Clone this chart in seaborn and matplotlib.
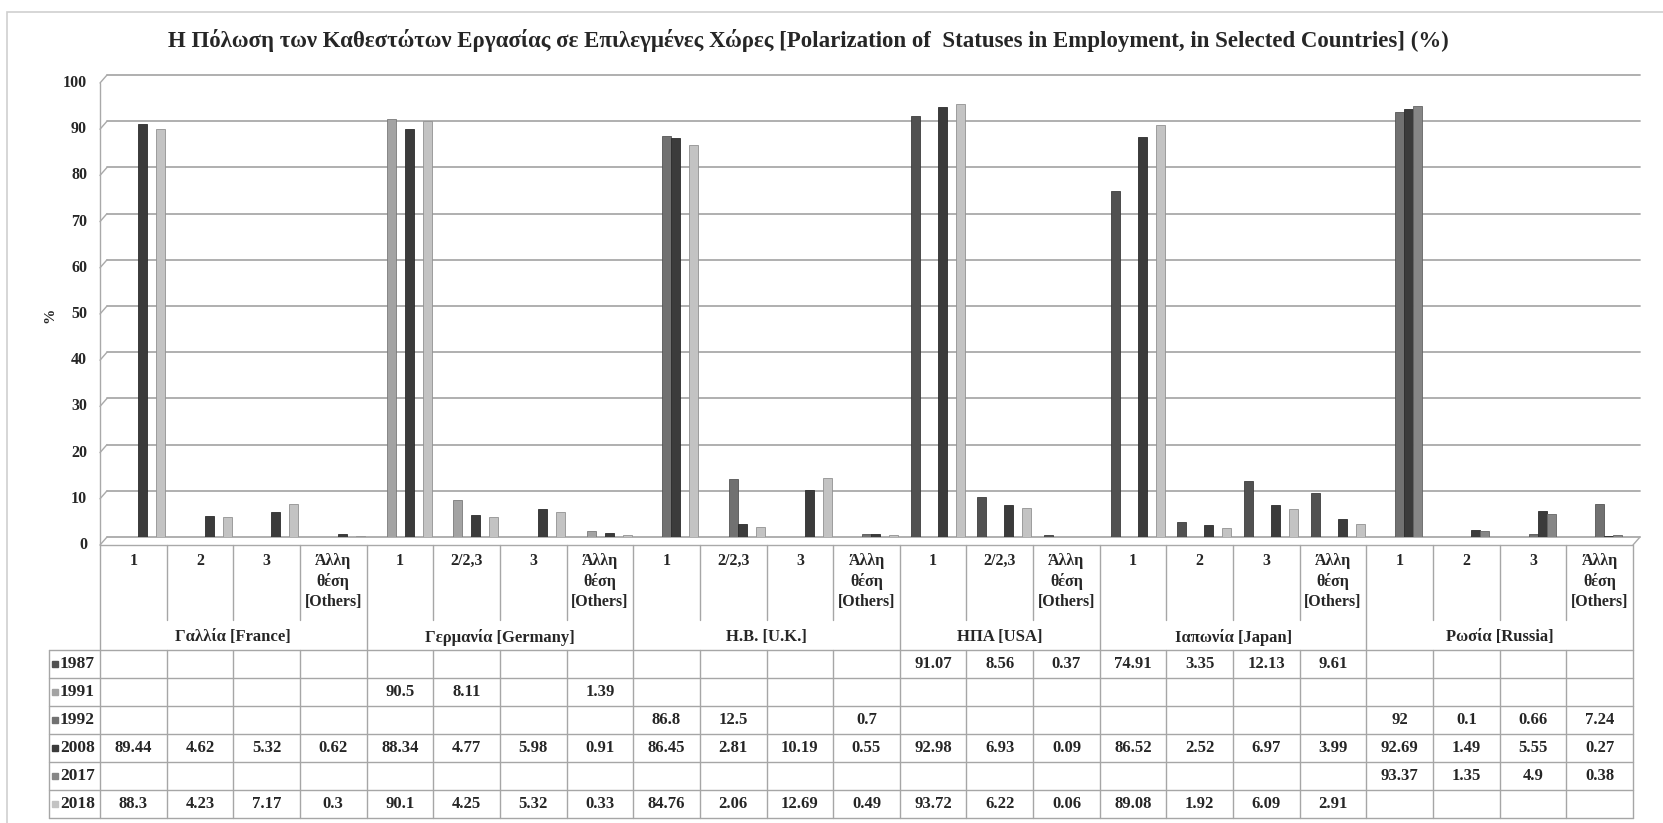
import numpy as np
import pandas as pd
import matplotlib.pyplot as plt
import seaborn as sns
from matplotlib.patches import Rectangle
from matplotlib.colors import to_rgb

sns.set_style("white")
plt.rcParams["font.family"] = ["Liberation Serif", "DejaVu Serif"]
plt.rcParams["font.weight"] = "bold"

# ---------------- data ----------------
TITLE = ("Η Πόλωση των Καθεστώτων Εργασίας σε Επιλεγμένες Χώρες "
         "[Polarization of  Statuses in Employment, in Selected Countries] (%)")
OTHERS = "Άλλη\nθέση\n[Others]"
countries = ["Γαλλία [France]", "Γερμανία [Germany]", "Η.Β. [U.K.]",
             "ΗΠΑ [USA]", "Ιαπωνία [Japan]", "Ρωσία [Russia]"]
statuses = [
    ["1", "2", "3", OTHERS],
    ["1", "2/2,3", "3", OTHERS],
    ["1", "2/2,3", "3", OTHERS],
    ["1", "2/2,3", OTHERS],
    ["1", "2", "3", OTHERS],
    ["1", "2", "3", OTHERS],
]
years = ["1987", "1991", "1992", "2008", "2017", "2018"]
N = None
#        France                  Germany                    U.K.                        USA                  Japan                      Russia
v1987 = [N, N, N, N,             N, N, N, N,                N, N, N, N,                 91.07, 8.56, 0.37,   74.91, 3.35, 12.13, 9.61,  N, N, N, N]
v1991 = [N, N, N, N,             90.5, 8.11, N, 1.39,       N, N, N, N,                 N, N, N,             N, N, N, N,                N, N, N, N]
v1992 = [N, N, N, N,             N, N, N, N,                86.8, 12.5, N, 0.7,         N, N, N,             N, N, N, N,                92, 0.1, 0.66, 7.24]
v2008 = [89.44, 4.62, 5.32, 0.62, 88.34, 4.77, 5.98, 0.91,  86.45, 2.81, 10.19, 0.55,   92.98, 6.93, 0.09,   86.52, 2.52, 6.97, 3.99,   92.69, 1.49, 5.55, 0.27]
v2017 = [N, N, N, N,             N, N, N, N,                N, N, N, N,                 N, N, N,             N, N, N, N,                93.37, 1.35, 4.9, 0.38]
v2018 = [88.3, 4.23, 7.17, 0.3,  90.1, 4.25, 5.32, 0.33,    84.76, 2.06, 12.69, 0.49,   93.72, 6.22, 0.06,   89.08, 1.92, 6.09, 2.91,   N, N, N, N]
series = dict(zip(years, [v1987, v1991, v1992, v2008, v2017, v2018]))
colors = ["#515151", "#a3a3a3", "#717171", "#3b3b3b", "#868686", "#c3c3c3"]

cat_labels = [s for grp in statuses for s in grp]
n_cat = len(cat_labels)
cols = [f"c{i}" for i in range(n_cat)]
rows = []
for y in years:
    for c, v in zip(cols, series[y]):
        rows.append({"col": c, "year": y, "value": np.nan if v is None else v})
df = pd.DataFrame(rows)

# ---------------- layout (pixels of the 1663x823 target) ----------------
W, H = 1663, 823
CW = (1633 - 100) / n_cat          # width of one category column
fig = plt.figure(figsize=(W / 100, H / 100), dpi=100)

ax = fig.add_axes([100 / W, (H - 537) / H, (1640 - 100) / W, (537 - 75) / H])
sns.barplot(data=df, x="col", y="value", hue="year", order=cols,
            hue_order=years, palette=colors, saturation=1, width=0.81,
            gap=0, errorbar=None, legend=False, ax=ax)
for p in ax.patches:
    fc = np.array(to_rgb(p.get_facecolor()))
    p.set_edgecolor(fc * 0.75)
    p.set_linewidth(0.6)

x0 = -0.57
x1 = x0 + (1640 - 100) / CW
ax.set_xlim(x0, x1)
ax.set_ylim(0, 100)
ax.set_xticks([])
ax.set_yticks([])
ax.set_xlabel("")
ax.set_ylabel("")
for s in ax.spines.values():
    s.set_visible(False)

# pseudo-3D walls like the Excel original
dx = 7 / CW
dy = 8 / ((537 - 75) / 100)
grid_c = "#a9a9a9"
for v in range(0, 101, 10):
    ax.plot([x0 + dx, x1], [v, v], color=grid_c, lw=1.3, zorder=0.5, clip_on=False)
    ax.plot([x0, x0 + dx], [v - dy, v], color=grid_c, lw=1.0, clip_on=False)
    ax.text(x0 - 13 / CW, v - dy, str(v), ha="right", va="center",
            fontsize=11.5, clip_on=False)
ax.plot([x0, x0], [-dy, 100 - dy], color=grid_c, lw=1.0, clip_on=False)
ax.plot([x0, x1 - dx], [-dy, -dy], color=grid_c, lw=1.0, clip_on=False)
ax.plot([x1 - dx, x1], [-dy, 0], color=grid_c, lw=1.0, clip_on=False)
fig.text(50 / W, 1 - 315 / H, "%", rotation=90, ha="center", va="center",
         fontsize=11)

fig.text(808 / W, 1 - 40 / H, TITLE, ha="center", va="center", fontsize=16.5)

# ---------------- data table under the chart ----------------
tax = fig.add_axes([100 / W, (H - 818) / H, (1633 - 100) / W, (818 - 545) / H])
tax.set_xlim(-0.5, n_cat - 0.5)
tax.set_ylim(818, 545)
tax.axis("off")
line_c = "#a6a6a6"
xl = -0.5 - 51 / CW
row_top = 650
row_h = 28

bounds = np.cumsum([0] + [len(g) for g in statuses]) - 0.5
for i in range(n_cat + 1):
    xb = i - 0.5
    if np.isclose(bounds, xb).any():
        tax.plot([xb, xb], [545, 818], color=line_c, lw=1, clip_on=False)
    else:
        tax.plot([xb, xb], [545, 620], color=line_c, lw=1, clip_on=False)
        tax.plot([xb, xb], [row_top, 818], color=line_c, lw=1, clip_on=False)
tax.plot([xl, xl], [row_top, 818], color=line_c, lw=1, clip_on=False)
for r in range(len(years) + 1):
    yy = row_top + r * row_h
    tax.plot([xl, n_cat - 0.5], [yy, yy], color=line_c, lw=1, clip_on=False)

for i, lab in enumerate(cat_labels):
    tax.text(i, 553, lab, ha="center", va="top", fontsize=11.5,
             linespacing=1.3)
for k, name in enumerate(countries):
    tax.text((bounds[k] + bounds[k + 1]) / 2, 637, name, ha="center",
             va="center", fontsize=12)

for r, (y, col) in enumerate(zip(years, colors)):
    yc = row_top + r * row_h + row_h / 2
    tax.plot([xl + 6 / CW], [yc], marker="s", ms=4.5, color=col, clip_on=False)
    tax.text(xl + 11 / CW, yc, y, ha="left", va="center", fontsize=12.5,
             clip_on=False)
    for i, v in enumerate(series[y]):
        if v is not None:
            tax.text(i, yc, f"{v:g}", ha="center", va="center", fontsize=12)

# outer frame of the pasted chart
fig.add_artist(Rectangle((7 / W, -0.05), 1.0, 1.05 - 12 / H,
                         transform=fig.transFigure, fill=False,
                         edgecolor="#cfcfcf", lw=1.2))

plt.savefig("out.png", dpi=100)
